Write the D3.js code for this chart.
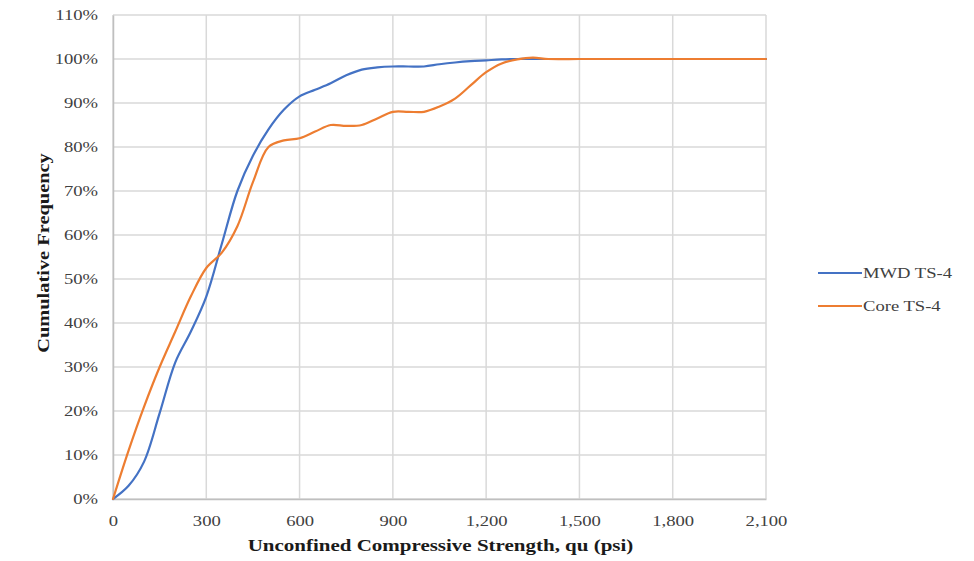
<!DOCTYPE html>
<html>
<head>
<meta charset="utf-8">
<script src="https://cdn.jsdelivr.net/npm/d3@7"></script>
<style>
  html, body { margin: 0; padding: 0; background: #fff; }
  svg { display: block; }
</style>
</head>
<body>
<svg id="chart" width="974" height="561"></svg>
<script>
// Strength bins (psi) and cumulative frequency (%) for each data set
const strength = [0, 50, 100, 150, 200, 250, 300, 350, 400, 450, 500, 550, 600, 650, 700, 750, 800,
  850, 900, 950, 1000, 1050, 1100, 1150, 1200, 1250, 1300, 1350, 1400, 1500, 1600, 1700, 1800, 1900, 2000, 2100];
const mwdTS4 = [0, 3, 8.5, 19.5, 31, 38, 46, 58, 70, 78, 84, 88.5, 91.5, 93, 94.5, 96.3, 97.6,
  98.1, 98.3, 98.3, 98.3, 98.8, 99.2, 99.5, 99.7, 99.9, 100, 100, 100, 100, 100, 100, 100, 100, 100, 100];
const coreTS4 = [0, 11, 21, 30, 38, 46, 52.5, 56, 62, 72, 80, 81.5, 82, 83.5, 85, 84.8, 85,
  86.5, 88, 88, 88, 89.2, 91, 94, 97, 99, 99.9, 100.3, 100, 100, 100, 100, 100, 100, 100, 100];
const xTicks = [0, 300, 600, 900, 1200, 1500, 1800, 2100];
const yTicks = [0, 10, 20, 30, 40, 50, 60, 70, 80, 90, 100, 110];
const seriesNames = ["MWD TS-4", "Core TS-4"];
const seriesColors = ["#4472C4", "#ED7D31"];

const svg = d3.select("#chart");
const plot = { left: 113, right: 766, top: 15, bottom: 499 };

const x = d3.scaleLinear().domain([0, 2100]).range([plot.left, plot.right]);
const y = d3.scaleLinear().domain([0, 110]).range([plot.bottom, plot.top]);

const fmtX = d3.format(",");
const serif = "'Liberation Serif', 'Times New Roman', serif";
const widen = 1.2; // horizontal stretch applied to all lettering

// Gridlines
const grid = svg.append("g");
grid.selectAll("line.v").data(xTicks).join("line")
  .attr("x1", d => x(d)).attr("x2", d => x(d))
  .attr("y1", plot.top).attr("y2", plot.bottom)
  .attr("stroke", "#d9d9d9").attr("stroke-width", 1.5);
grid.selectAll("line.h").data(yTicks).join("line")
  .attr("x1", plot.left).attr("x2", plot.right)
  .attr("y1", d => y(d)).attr("y2", d => y(d))
  .attr("stroke", "#d9d9d9").attr("stroke-width", 1.5);

// Axes (labels only, grey baseline)
const xAxis = svg.append("g")
  .attr("transform", `translate(0,${plot.bottom})`)
  .call(d3.axisBottom(x).tickValues(xTicks).tickFormat(fmtX).tickSize(0).tickPadding(16));
const yAxis = svg.append("g")
  .attr("transform", `translate(${plot.left},0)`)
  .call(d3.axisLeft(y).tickValues(yTicks).tickFormat(d => d + "%").tickSize(0).tickPadding(15));
[xAxis, yAxis].forEach(a => {
  a.select(".domain").attr("stroke", "#bfbfbf").attr("stroke-width", 1.5);
  a.selectAll("text")
    .attr("font-family", serif).attr("font-size", 15.5).attr("fill", "#404040")
    .attr("x", function () { return (+this.getAttribute("x") || 0) / widen; })
    .attr("transform", `scale(${widen},1)`);
});

// Series lines
const line = d3.line()
  .x((d, i) => x(strength[i]))
  .y(d => y(d))
  .curve(d3.curveCatmullRom.alpha(0.5));

[mwdTS4, coreTS4].forEach((vals, k) => {
  svg.append("path")
    .datum(vals)
    .attr("d", line)
    .attr("fill", "none")
    .attr("stroke", seriesColors[k])
    .attr("stroke-width", 2.2)
    .attr("stroke-linejoin", "round")
    .attr("stroke-linecap", "round");
});

// Axis titles
svg.append("text")
  .attr("transform", `translate(${x(1050) + 1},551) scale(${widen},1)`)
  .attr("text-anchor", "middle")
  .attr("font-family", serif).attr("font-size", 17.5).attr("font-weight", "bold")
  .attr("fill", "#1a1a1a")
  .text("Unconfined Compressive Strength, qu (psi)");
svg.append("text")
  .attr("transform", `translate(49,253) rotate(-90) scale(${widen},1)`)
  .attr("text-anchor", "middle")
  .attr("font-family", serif).attr("font-size", 17).attr("font-weight", "bold")
  .attr("fill", "#1a1a1a")
  .text("Cumulative Frequency");

// Legend
const legend = svg.append("g").attr("transform", "translate(818,273)");
seriesNames.forEach((name, i) => {
  const g = legend.append("g").attr("transform", `translate(0,${i * 33})`);
  g.append("line").attr("x1", 0).attr("x2", 44).attr("y1", 0).attr("y2", 0)
    .attr("stroke", seriesColors[i]).attr("stroke-width", 2.2);
  g.append("text")
    .attr("transform", `translate(45,5) scale(${widen},1)`)
    .attr("font-family", serif).attr("font-size", 15.5).attr("fill", "#404040")
    .text(name);
});
</script>
</body>
</html>
